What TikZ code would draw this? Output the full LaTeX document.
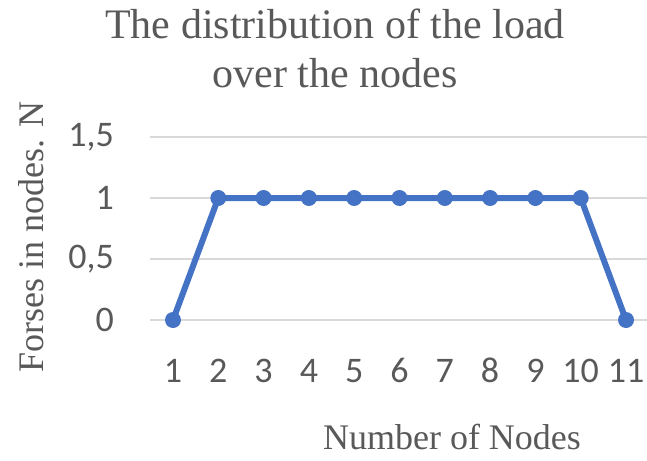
\documentclass[tikz,border=0pt]{standalone}
\usepackage{fontspec}
\setmainfont{Liberation Serif}
\newfontfamily\calibri{Carlito}
\definecolor{txtgray}{HTML}{595959}
\definecolor{gridgray}{HTML}{D9D9D9}
\definecolor{seriesblue}{HTML}{4472C4}
\begin{document}
\begin{tikzpicture}[x=1pt,y=-1pt,
  gridline/.style={draw=gridgray,line width=1.6pt},
  ticklab/.style={text=txtgray,font=\calibri\fontsize{36}{40}\selectfont,inner sep=0pt},
  titletext/.style={text=txtgray,font=\fontsize{42}{48}\selectfont,align=center,inner sep=0pt},
  axistitle/.style={text=txtgray,font=\fontsize{36}{40}\selectfont,inner sep=0pt},
  datapt/.style={circle,fill=seriesblue,minimum size=16pt,inner sep=0pt},
  seriesline/.style={draw=seriesblue,line width=6pt,line join=round}]
\useasboundingbox (0,0) rectangle (647,460);
% horizontal gridlines and value labels
\foreach \v/\lab [count=\k] in {0/0,0.5/{0,5},1/1,1.5/{1,5}} {
  \pgfmathsetmacro{\yy}{320-122*\v}
  \draw[gridline] (150,\yy) -- (647,\yy);
  \node[ticklab,anchor=east] (ylab\k) at (114,\yy) {\lab};
}
% category labels
\foreach \i in {1,...,11} {
  \pgfmathsetmacro{\xx}{173+45.3*(\i-1)}
  \node[ticklab,anchor=base] (xlab\i) at (\xx,382) {\i};
}
% data points
\foreach \i/\v in {1/0,2/1,3/1,4/1,5/1,6/1,7/1,8/1,9/1,10/1,11/0} {
  \pgfmathsetmacro{\xx}{173+45.3*(\i-1)}
  \pgfmathsetmacro{\yy}{320-122*\v}
  \coordinate (c\i) at (\xx,\yy);
}
\draw[seriesline] (c1) \foreach \i in {2,...,11} { -- (c\i) };
\foreach \i in {1,...,11} { \node[datapt] (p\i) at (c\i) {}; }
% titles
\node[titletext,anchor=base] (title) at (335,38) {The distribution of the load};
\node[titletext,anchor=base] (title2) at (335,87) {over the nodes};
\node[axistitle,rotate=90,anchor=base] (ytitle) at (43,237) {Forses in nodes. N};
\node[axistitle,anchor=base] (xtitle) at (452,449) {Number of Nodes};
\end{tikzpicture}
\end{document}
